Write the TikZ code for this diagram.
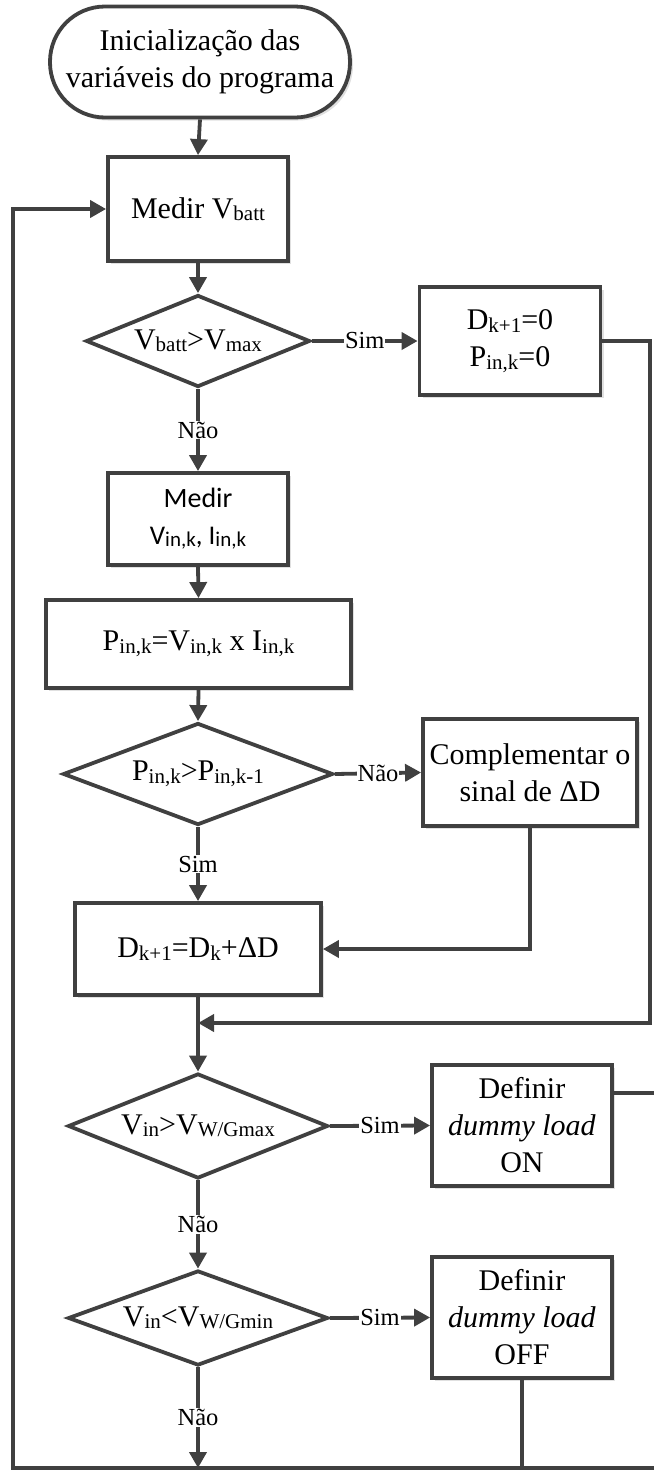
\documentclass[tikz,border=0pt]{standalone}
\usepackage{fontspec}
\setmainfont{Liberation Serif}
\newfontfamily\calib{Carlito}
\usetikzlibrary{shapes.geometric,arrows.meta,shadows}

\definecolor{ink}{HTML}{404040}
% subscripts: smaller type, slightly lowered
\newcommand\sbs[1]{\raisebox{-2.5pt}{\fontsize{21}{21}\selectfont #1}}
\newcommand\sbsc[1]{\raisebox{-2pt}{\fontsize{21}{21}\selectfont #1}}

\tikzset{
  base/.style={draw=ink, line width=3.8pt, align=center, inner sep=0pt,
               font=\rmfamily\fontsize{30}{37}\selectfont},
  proc/.style={base, rectangle, fill=white,
               drop shadow={shadow xshift=3pt, shadow yshift=-3pt, opacity=0.3, fill=black!40}},
  term/.style={proc, rounded corners=55pt},
  dec/.style={base, diamond, fill=white},
  lbl/.style={fill=white, inner sep=1pt, font=\rmfamily\fontsize{24.5}{26}\selectfont},
  flow/.style={draw=ink, line width=3.8pt},
  arr/.style={flow, -{Triangle[length=16pt,width=17pt]}},
}

\begin{document}
\begin{tikzpicture}[x=1pt, y=-1pt]
\useasboundingbox (0,0) rectangle (654,1470);

% main column
\node[term, minimum width=300pt, minimum height=111pt] (start) at (200,62)
  {Inicialização das\\variáveis do programa};
\node[proc, minimum width=180pt, minimum height=104pt] (m1) at (198,209)
  {Medir V\sbs{batt}};
\node[dec, minimum width=224pt, minimum height=92pt] (d1) at (198,341)
  {\makebox[0pt]{V\sbs{batt}>V\sbs{max}}};
\node[proc, minimum width=181pt, minimum height=108pt] (D0) at (510,341)
  {D\sbs{k+1}=0\\P\sbs{in,k}=0};
\node[proc, minimum width=180pt, minimum height=92pt,
      font=\calib\fontsize{28}{37}\selectfont] (m2) at (198,519)
  {Medir\\{\fontsize{27}{37}\selectfont V\sbsc{in,k}, I\sbsc{in,k}}};
\node[proc, minimum width=305pt, minimum height=88pt] (P) at (198.5,644)
  {P\sbs{in,k}=V\sbs{in,k} x I\sbs{in,k}};
\node[dec, minimum width=270pt, minimum height=102pt] (d2) at (198,774)
  {\makebox[0pt]{P\sbs{in,k}>P\sbs{in,k-1}}};
\node[proc, minimum width=214pt, minimum height=107pt] (comp) at (530,772.5)
  {Complementar o\\sinal de ΔD};
\node[proc, minimum width=246pt, minimum height=92pt] (D) at (198,949)
  {D\sbs{k+1}=D\sbs{k}+ΔD};
\node[dec, minimum width=260pt, minimum height=105pt] (d3) at (198,1126)
  {\makebox[0pt]{V\sbs{in}>V\sbs{W/Gmax}}};
\node[proc, minimum width=180pt, minimum height=121pt] (on) at (522,1125.5)
  {Definir\\\textit{dummy load}\\ON};
\node[dec, minimum width=260pt, minimum height=95pt] (d4) at (198,1318)
  {\makebox[0pt]{V\sbs{in}<V\sbs{W/Gmin}}};
\node[proc, minimum width=180pt, minimum height=121pt] (off) at (522,1317.5)
  {Definir\\\textit{dummy load}\\OFF};

% junctions and free ends
\coordinate (rt) at (650,341);
\coordinate (mj) at (198,1023);
\coordinate (onr) at (654,1093);
\coordinate (bj) at (198,1468);
\coordinate (br) at (654,1468);
\coordinate (bl) at (13,1468);

% connectors
\draw[arr] (start.south) -- (m1.north);
\draw[arr] (m1.south) -- (d1.north);
\draw[arr] (d1.east) -- node[lbl]{Sim} (D0.west);
\draw[arr] (d1.south) -- node[lbl]{Não} (m2.north);
\draw[arr] (m2.south) -- (P.north);
\draw[arr] (P.south) -- (d2.north);
\draw[arr] (d2.east) -- node[lbl]{Não} (comp.west);
\draw[arr] (d2.south) -- node[lbl]{Sim} (D.north);
\draw[arr] (comp.south) |- (D.east);
\draw[arr] (D0.east) -- (rt) |- (mj);
\draw[arr] (D.south) -- (d3.north);
\draw[arr] (d3.east) -- node[lbl]{Sim} (on.west);
\draw[arr] (d3.south) -- node[lbl]{Não} (d4.north);
\draw[flow] (on.east |- onr) -- (onr);
\draw[arr] (d4.east) -- node[lbl]{Sim} (off.west);
\draw[arr] (d4.south) -- node[lbl]{Não} (bj);
\draw[flow] (off.south) -- (off.south |- bj);
\draw[arr] (br) -- (bl) |- (m1.west);
\end{tikzpicture}
\end{document}
